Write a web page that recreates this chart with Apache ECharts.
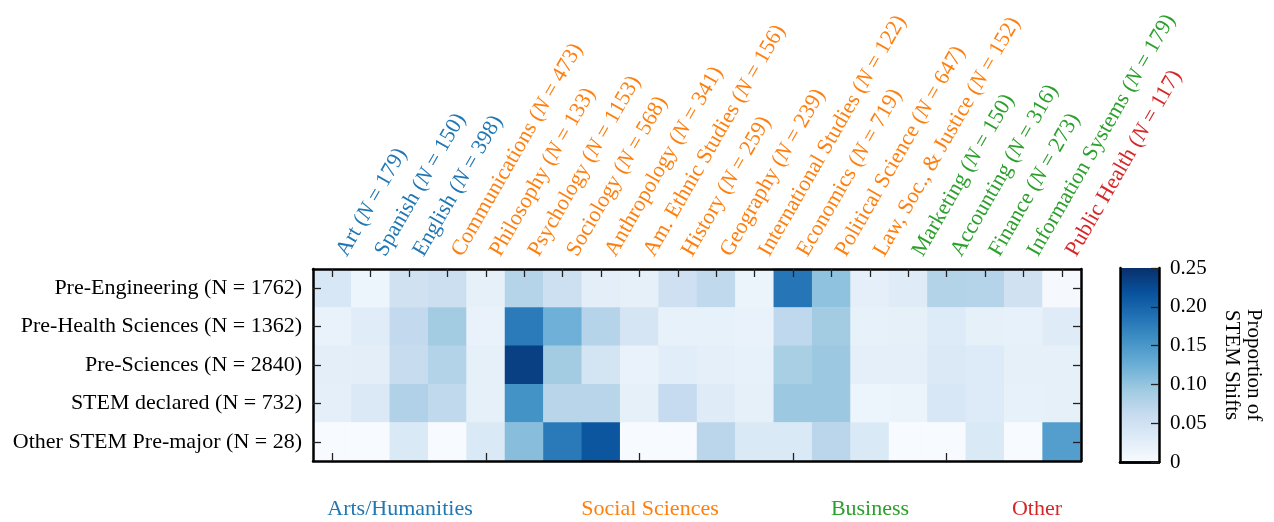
<!DOCTYPE html>
<html><head><meta charset="utf-8">
<script src="https://cdn.jsdelivr.net/npm/echarts@6/dist/echarts.min.js"></script>
<style>html,body{margin:0;padding:0;background:#fff}#c{width:1274px;height:522px}</style>
</head><body><div id="c"></div>
<script>
// ---- data ----
const majors = ['Art','Spanish','English','Communications','Philosophy','Psychology','Sociology','Anthropology','Am. Ethnic Studies','History','Geography','International Studies','Economics','Political Science','Law, Soc., & Justice','Marketing','Accounting','Finance','Information Systems','Public Health'];
const majorN = [179,150,398,473,133,1153,568,341,156,259,239,122,719,647,152,150,316,273,179,117];
const majorGroup = [0,0,0,1,1,1,1,1,1,1,1,1,1,1,1,2,2,2,2,3];
const groupNames = ['Arts/Humanities','Social Sciences','Business','Other'];
const cohorts = ['Pre-Engineering','Pre-Health Sciences','Pre-Sciences','STEM declared','Other STEM Pre-major'];
const cohortN = [1762,1362,2840,732,28];
const preEngineering = [0.040,0.012,0.050,0.055,0.022,0.075,0.053,0.025,0.022,0.052,0.067,0.015,0.183,0.103,0.023,0.030,0.078,0.075,0.050,0.003];
const preHealth      = [0.017,0.029,0.065,0.090,0.017,0.178,0.123,0.075,0.042,0.020,0.020,0.017,0.068,0.090,0.020,0.022,0.033,0.022,0.020,0.030];
const preSciences    = [0.025,0.025,0.060,0.078,0.022,0.235,0.090,0.045,0.018,0.027,0.024,0.020,0.085,0.095,0.024,0.024,0.035,0.033,0.022,0.022];
const stemDeclared   = [0.024,0.035,0.080,0.067,0.022,0.155,0.073,0.073,0.022,0.062,0.030,0.022,0.095,0.095,0.012,0.015,0.040,0.033,0.020,0.022];
const otherStem      = [0,0,0.036,0,0.036,0.107,0.179,0.214,0,0,0.071,0.036,0.036,0.071,0.036,0,0,0.036,0,0.143];
const rows = [preEngineering, preHealth, preSciences, stemDeclared, otherStem];
const scaleMin = 0, scaleMax = 0.25, scaleStep = 0.05;

// ---- styles ----
const FONT = 'Liberation Serif';
const FS = 22;
const groupColors = ['#1f77b4','#ff7f0e','#2ca02c','#d62728'];
const groupLabelX = [400, 650, 870, 1037];
const blues = ['#f7fbff','#deebf7','#c6dbef','#9ecae1','#6baed6','#4292c6','#2171b5','#08519c','#08306b'];

const heatData = [];
rows.forEach((r, y) => r.forEach((v, x) => heatData.push([x, y, v])));

const rich = {};
groupColors.forEach((c, g) => {
  rich['g' + g] = {color: c, fontFamily: FONT, fontSize: FS};
  rich['i' + g] = {color: c, fontFamily: FONT, fontSize: FS, fontStyle: 'italic'};
});

const lineStyle = {color: '#000', width: 2.5};
const tickStyle = {color: '#222', width: 1.3};

const chart = echarts.init(document.getElementById('c'));
chart.setOption({
  animation: false,
  backgroundColor: '#fff',
  grid: [
    {left: 313, top: 269, width: 768, height: 192},
    {left: 1120, top: 268, width: 39, height: 194}
  ],
  xAxis: [
    {type: 'category', gridIndex: 0, data: majors, position: 'top', z: 10,
      axisLine: {show: true, lineStyle}, 
      axisTick: {show: true, inside: true, length: 8, alignWithLabel: true, lineStyle: tickStyle},
      axisLabel: {interval: 0, rotate: -60, margin: 20, verticalAlign: 'top',
        formatter: (v, i) => { const g = majorGroup[i]; return `{g${g}|${v} (}{i${g}|N}{g${g}| = ${majorN[i]})}`; },
        rich}},
    {type: 'category', gridIndex: 0, data: majors, position: 'bottom', z: 10,
      axisLine: {show: true, lineStyle},
      axisTick: {show: true, inside: true, length: 8, alignWithLabel: true, lineStyle: tickStyle},
      axisLabel: {show: false}},
    {type: 'category', gridIndex: 1, data: ['cb'], position: 'bottom', z: 10,
      axisLine: {show: true, lineStyle}, axisTick: {show: false}, axisLabel: {show: false}},
    {type: 'category', gridIndex: 1, data: ['cb'], position: 'top', z: 10,
      axisLine: {show: true, lineStyle}, axisTick: {show: false}, axisLabel: {show: false}}
  ],
  yAxis: [
    {type: 'category', gridIndex: 0, data: cohorts, inverse: true, position: 'left', z: 10,
      axisLine: {show: true, lineStyle},
      axisTick: {show: true, inside: true, length: 8, alignWithLabel: true, lineStyle: tickStyle},
      axisLabel: {interval: 0, margin: 11, color: '#000', fontFamily: FONT, fontSize: FS,
        formatter: (v, i) => `${v} (N = ${cohortN[i]})`}},
    {type: 'category', gridIndex: 0, data: cohorts, inverse: true, position: 'right', z: 10,
      axisLine: {show: true, lineStyle},
      axisTick: {show: true, inside: true, length: 8, alignWithLabel: true, lineStyle: tickStyle},
      axisLabel: {show: false}},
    {type: 'value', gridIndex: 1, min: scaleMin, max: scaleMax, interval: scaleStep, position: 'right', z: 10,
      axisLine: {show: true, lineStyle},
      axisTick: {show: true, inside: true, length: 8, lineStyle: tickStyle},
      splitLine: {show: false},
      axisLabel: {margin: 11, color: '#000', fontFamily: FONT, fontSize: 21,
        formatter: v => v === 0 ? '0' : v.toFixed(2)},
      name: 'Proportion of\nSTEM Shifts', nameLocation: 'middle', nameRotate: -90, nameGap: 62,
      nameTextStyle: {color: '#000', fontFamily: FONT, fontSize: 21, lineHeight: 22}},
    {type: 'value', gridIndex: 1, min: scaleMin, max: scaleMax, position: 'left', z: 10,
      axisLine: {show: true, lineStyle}, axisTick: {show: false}, axisLabel: {show: false},
      splitLine: {show: false}}
  ],
  visualMap: {show: false, min: scaleMin, max: scaleMax, seriesIndex: 0, dimension: 2,
    inRange: {color: blues}},
  series: [
    {type: 'heatmap', xAxisIndex: 0, yAxisIndex: 0, data: heatData, silent: true},
    {type: 'bar', xAxisIndex: 2, yAxisIndex: 2, data: [scaleMax], barWidth: '100%', silent: true,
      itemStyle: {color: {type: 'linear', x: 0, y: 0, x2: 0, y2: 1,
        colorStops: blues.slice().reverse().map((c, i) => ({offset: i / (blues.length - 1), color: c}))}}}
  ],
  graphic: groupNames.map((t, i) => ({
    type: 'text', x: groupLabelX[i], y: 509,
    style: {text: t, fill: groupColors[i], font: `${FS}px "${FONT}"`, textAlign: 'center', textVerticalAlign: 'middle'}
  }))
});
</script>
</body></html>
